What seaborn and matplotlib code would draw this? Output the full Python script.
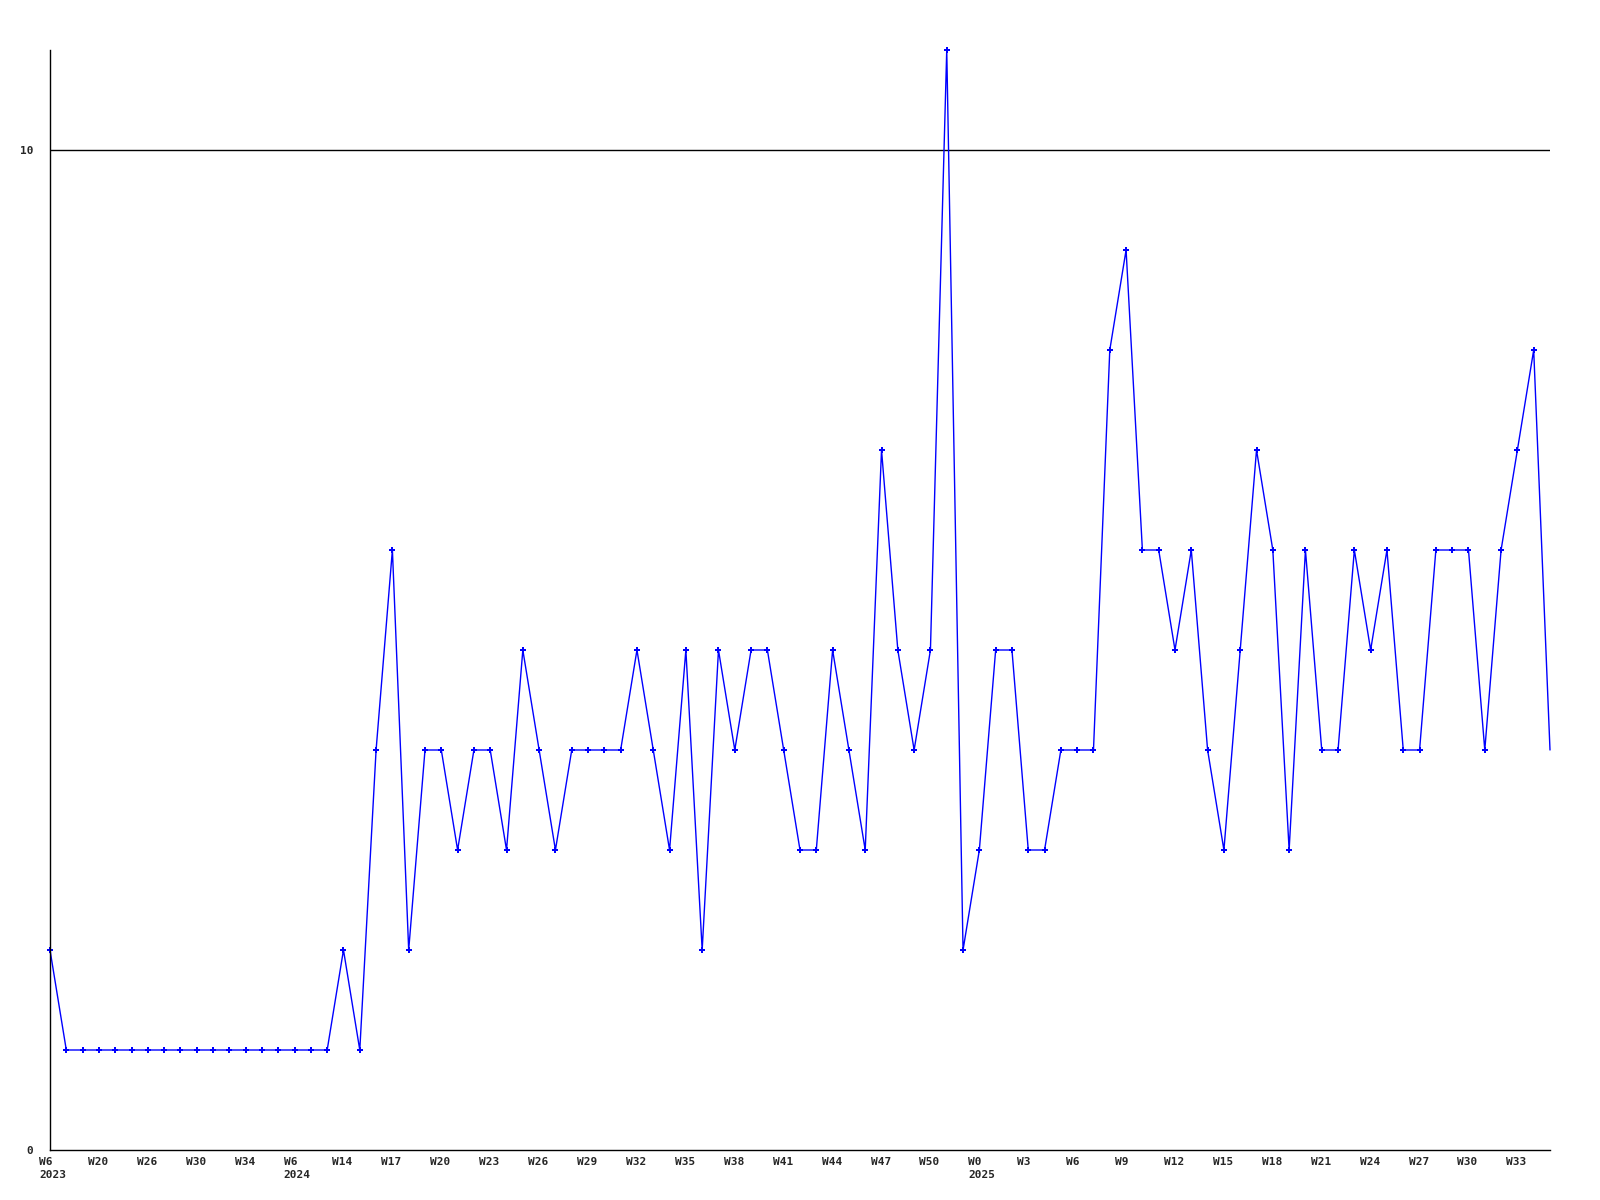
import numpy as np
import pandas as pd
import matplotlib
matplotlib.use("Agg")
import matplotlib.pyplot as plt
import matplotlib.transforms as mtransforms
import seaborn as sns

# weekly counts, one value per point (evenly spaced)
counts = [
    2, 1, 1, 1, 1, 1, 1, 1, 1, 1, 1, 1, 1, 1, 1, 1, 1, 1, 2, 1,
    4, 6, 2, 4, 4, 3, 4, 4, 3, 5, 4, 3, 4, 4, 4, 4, 5, 4, 3, 5,
    2, 5, 4, 5, 5, 4, 3, 3, 5, 4, 3, 7, 5, 4, 5, 11, 2, 3, 5, 5,
    3, 3, 4, 4, 4, 8, 9, 6, 6, 5, 6, 4, 3, 5, 7, 6, 3, 6, 4, 4,
    6, 5, 6, 4, 4, 6, 6, 6, 4, 6, 7, 8, 4,
]
# a label every third point
tick_labels = [
    "W6\n2023", "W20", "W26", "W30", "W34", "W6\n2024", "W14", "W17", "W20",
    "W23", "W26", "W29", "W32", "W35", "W38", "W41", "W44", "W47", "W50",
    "W0\n2025", "W3", "W6", "W9", "W12", "W15", "W18", "W21", "W24", "W27",
    "W30", "W33",
]
y_ticks = [0, 10]

df = pd.DataFrame({"idx": np.arange(len(counts)), "count": counts})

sns.set_style("white")
plt.rcParams["font.family"] = ["DejaVu Sans Mono", "DejaVu Sans"]

fig = plt.figure(figsize=(16, 12), dpi=100)
ax = fig.add_axes([50 / 1600, 50 / 1200, 1500 / 1600, 1100 / 1200])

# the last point sits on the right edge and has no marker in the original
sns.lineplot(data=df, x="idx", y="count", ax=ax, color="#0000ff", linewidth=1.0,
             marker="P", markersize=4.5, markeredgewidth=0, clip_on=False,
             markevery=list(range(len(counts) - 1)))

ax.set_xlim(0, len(counts) - 1)
ax.set_ylim(0, max(counts))

# single reference line at 10
ax.axhline(10, color="black", linewidth=1.0, zorder=0)

ax.set_yticks(y_ticks)
ax.set_yticklabels([str(v) for v in y_ticks], fontsize=8, fontweight="bold")
ax.set_xticks(np.arange(0, len(counts), 3))
ax.set_xticklabels(tick_labels, fontsize=8, fontweight="bold", linespacing=1.4)
ax.tick_params(axis="x", length=0, pad=5)
ax.tick_params(axis="y", length=0, pad=12)

shift = mtransforms.ScaledTranslation(-11 / 100, 0, fig.dpi_scale_trans)
for lab in ax.get_xticklabels():
    lab.set_horizontalalignment("left")
    lab.set_multialignment("left")
    lab.set_transform(lab.get_transform() + shift)

for side in ["top", "right"]:
    ax.spines[side].set_visible(False)
for side in ["left", "bottom"]:
    ax.spines[side].set_color("black")
    ax.spines[side].set_linewidth(1.0)

ax.set_xlabel("")
ax.set_ylabel("")

fig.savefig("out.png", dpi=100)
